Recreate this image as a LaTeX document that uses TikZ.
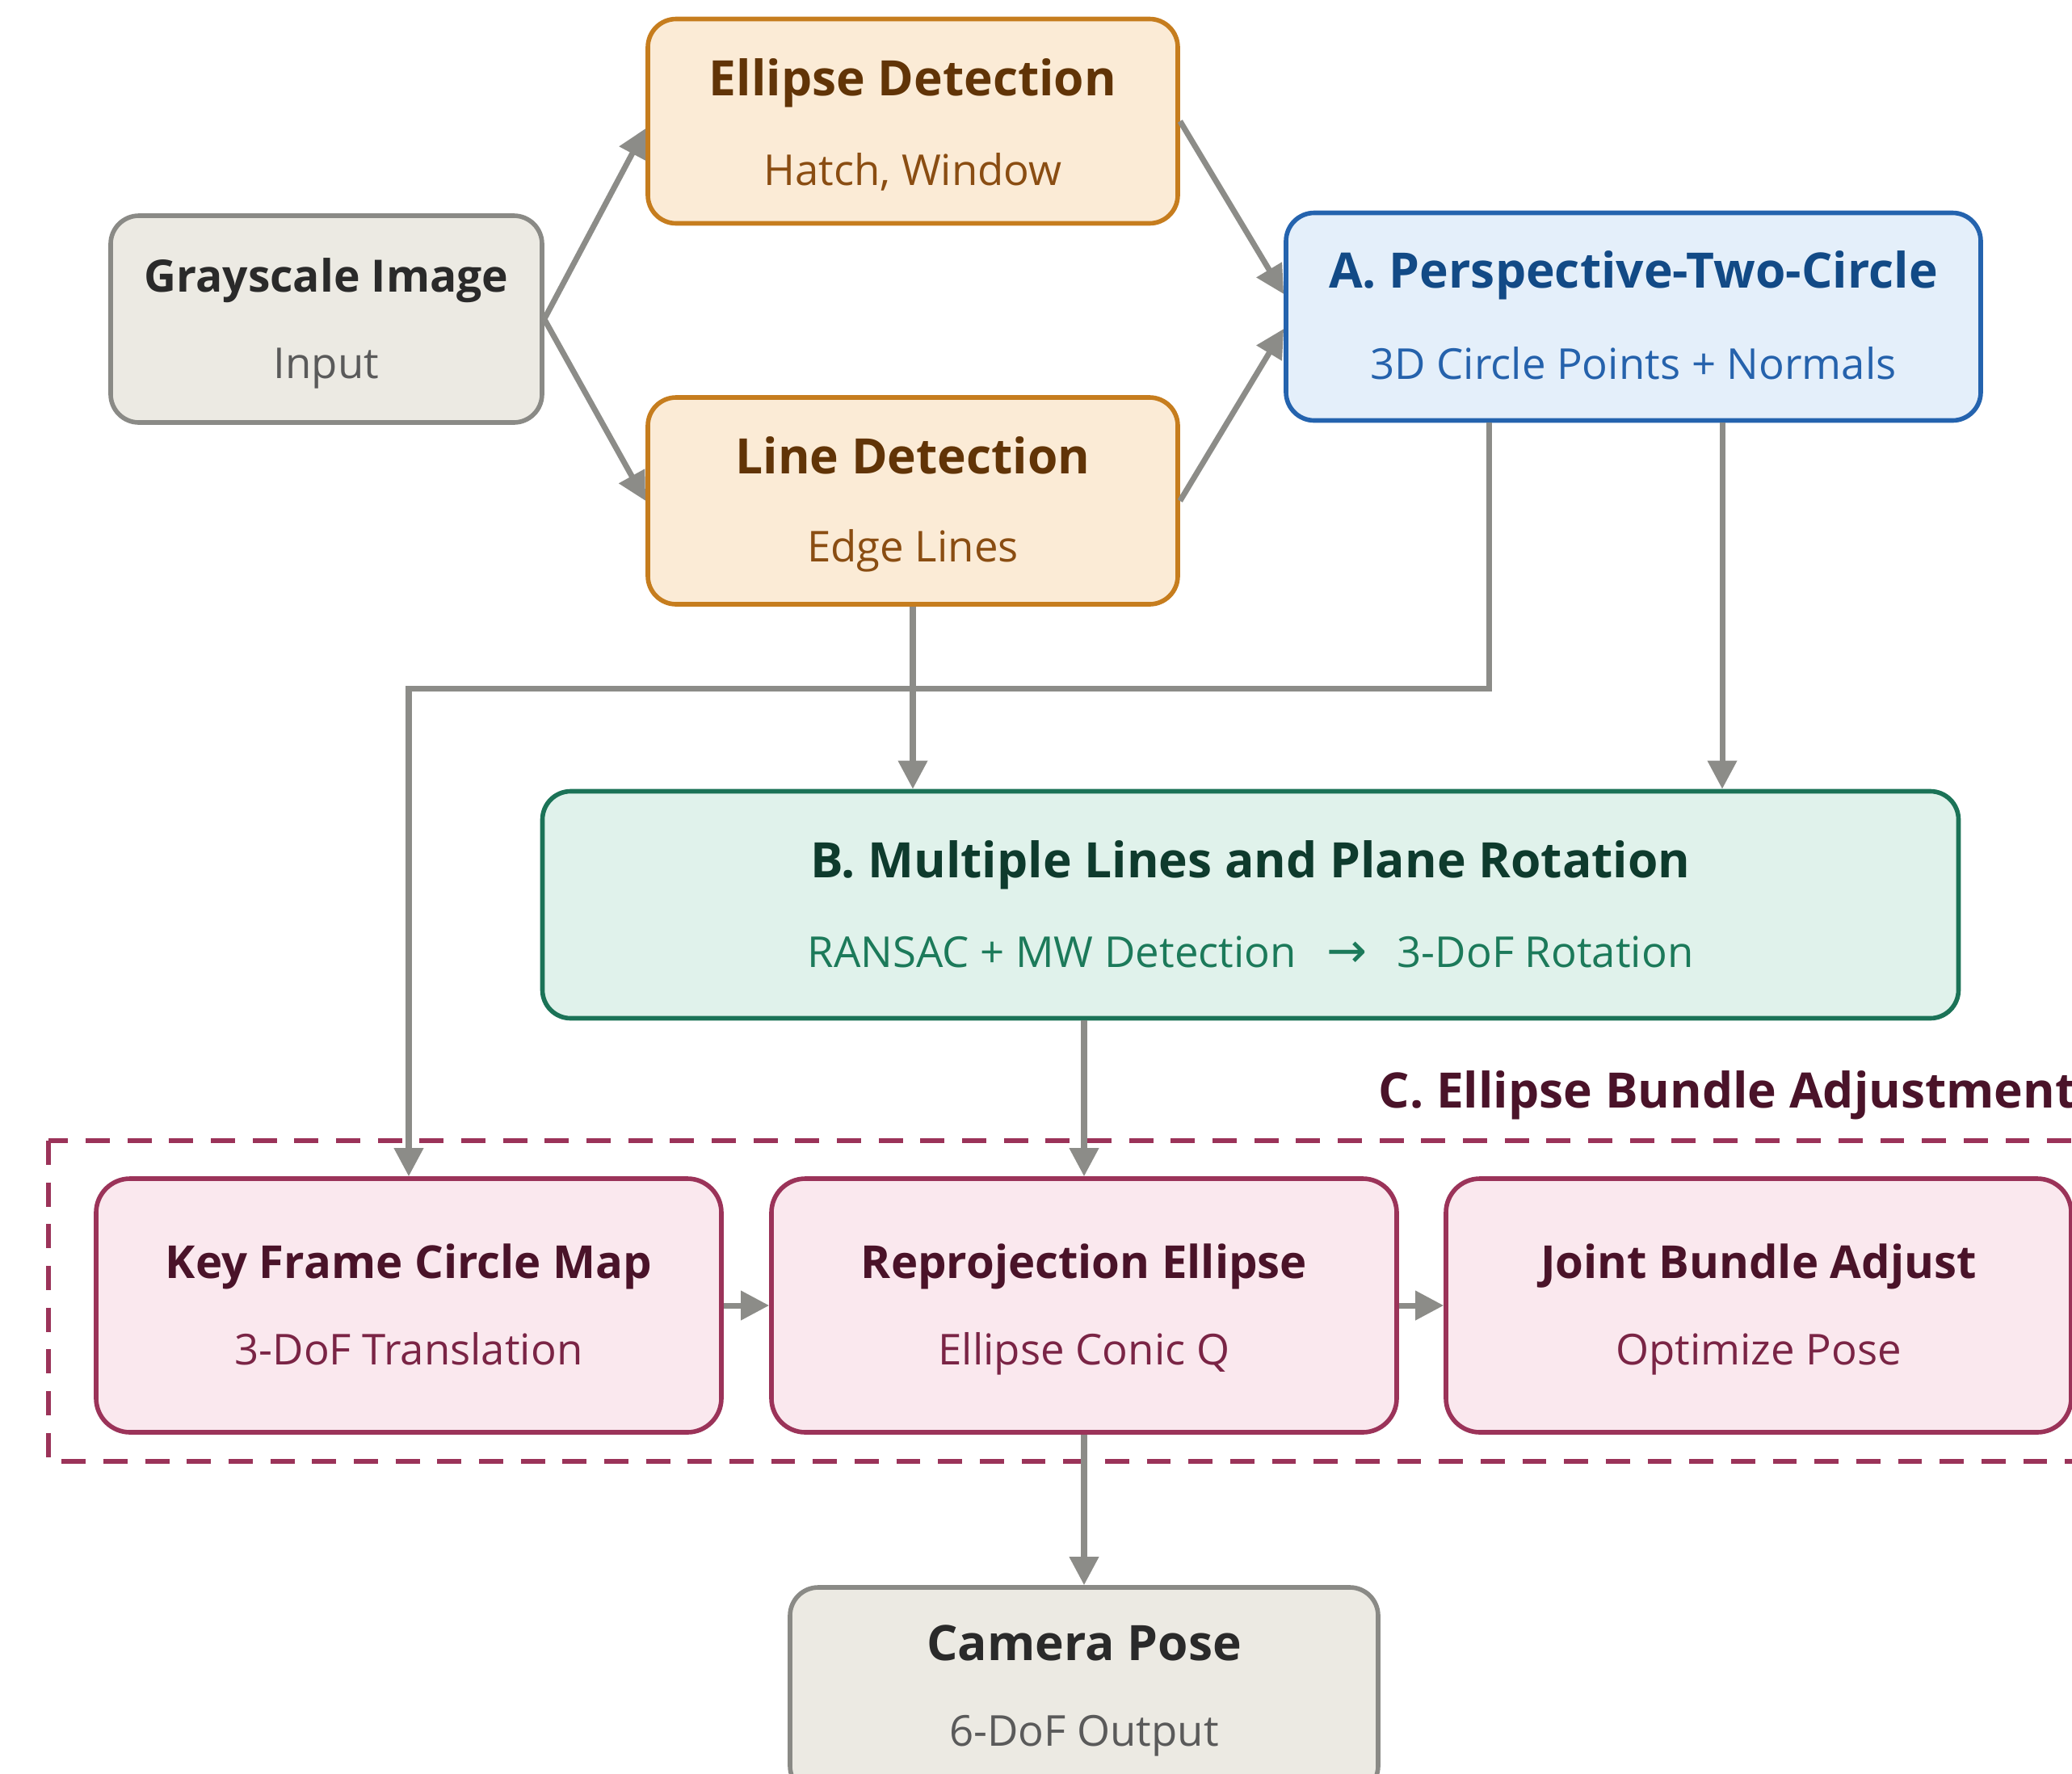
\documentclass[tikz,border=0pt]{standalone}
\usepackage{fontspec}
\setmainfont{Open Sans}
\newfontfamily\arrowfont{DejaVu Sans}
\usetikzlibrary{arrows.meta,positioning,calc}

\definecolor{grayfill}{HTML}{ECEAE3}
\definecolor{grayline}{HTML}{8A8A86}
\definecolor{graytitle}{HTML}{2A2A2A}
\definecolor{graysub}{HTML}{5A5A5A}
\definecolor{orfill}{HTML}{FBEBD6}
\definecolor{orline}{HTML}{C67D1E}
\definecolor{ortitle}{HTML}{613407}
\definecolor{orsub}{HTML}{8A4D12}
\definecolor{blfill}{HTML}{E4EFFA}
\definecolor{blline}{HTML}{2463AE}
\definecolor{bltitle}{HTML}{124A86}
\definecolor{blsub}{HTML}{2562AC}
\definecolor{grfill}{HTML}{E0F2EB}
\definecolor{grline}{HTML}{1B7357}
\definecolor{grtitle}{HTML}{0E3B2D}
\definecolor{grsub}{HTML}{1C7A5A}
\definecolor{pkfill}{HTML}{FAE8EE}
\definecolor{pkline}{HTML}{9B3359}
\definecolor{pktitle}{HTML}{4A1329}
\definecolor{pksub}{HTML}{7A2445}
\definecolor{arrgray}{HTML}{8C8C88}

\tikzset{
  box/.style={rounded corners=3.5mm, line width=1.6pt, inner sep=0pt},
  graybox/.style={box, draw=grayline, fill=grayfill},
  orbox/.style={box, draw=orline, fill=orfill},
  blbox/.style={box, draw=blline, fill=blfill},
  grbox/.style={box, draw=grline, fill=grfill},
  pkbox/.style={box, rounded corners=4.2mm, draw=pkline, fill=pkfill, minimum width=7.74cm, minimum height=3.14cm},
  ttl/.style={anchor=base, inner sep=0pt, font=\fontsize{17.2}{20}\selectfont\bfseries},
  pkttl/.style={ttl, font=\fontsize{16}{19}\selectfont\bfseries},
  sub/.style={anchor=base, inner sep=0pt, font=\fontsize{15}{18}\selectfont},
  arr/.style={draw=arrgray, line width=2pt, -{Triangle[length=10pt,width=10pt]}},
}

\begin{document}
\begin{tikzpicture}
	\clip (0,0) rectangle (25.65,-21.96);

	% input and detection
	\node[graybox, minimum width=5.34cm, minimum height=2.56cm] (gray) at (4.04,-3.95) {};
	\node[ttl, font=\fontsize{15.7}{19}\selectfont\bfseries, text=graytitle] (gray-t) at ([yshift=3.4mm]gray.center) {Grayscale Image};
	\node[sub, text=graysub] (gray-s) at ([yshift=-7.3mm]gray.center) {Input};

	\node[orbox, minimum width=6.56cm, minimum height=2.53cm] (ell) at (11.30,-1.50) {};
	\node[ttl, text=ortitle] (ell-t) at ([yshift=3.2mm]ell.center) {Ellipse Detection};
	\node[sub, text=orsub] (ell-s) at ([yshift=-7.9mm]ell.center) {Hatch, Window};

	\node[orbox, minimum width=6.56cm, minimum height=2.56cm] (line) at (11.30,-6.20) {};
	\node[ttl, text=ortitle] (line-t) at ([yshift=3.4mm]line.center) {Line Detection};
	\node[sub, text=orsub] (line-s) at ([yshift=-7.5mm]line.center) {Edge Lines};

	% A and B
	\node[blbox, minimum width=8.60cm, minimum height=2.57cm] (A) at (20.22,-3.92) {};
	\node[ttl, text=bltitle] (A-t) at ([yshift=3.6mm]A.center) {A. Perspective-Two-Circle};
	\node[sub, text=blsub] (A-s) at ([yshift=-7.7mm]A.center) {3D Circle Points + Normals};

	\node[grbox, minimum width=17.53cm, minimum height=2.81cm] (B) at (15.48,-11.20) {};
	\node[ttl, text=grtitle] (B-t) at ([yshift=3.4mm]B.center) {B. Multiple Lines and Plane Rotation};
	\node[sub, text=grsub] (B-s) at ([yshift=-7.7mm]B.center) {RANSAC + MW Detection\hspace{0.45em} {\arrowfont\fontsize{17}{17}\selectfont →} \hspace{0.45em}3-DoF Rotation};

	% C group
	\draw[pkline, line width=1.7pt, dash pattern=on 8.5pt off 6.2pt] (0.60,-14.12) rectangle (26.20,-18.09);
	\node[ttl, anchor=base west, text=pktitle] (C-t) at (17.06,-13.71) {C. Ellipse Bundle Adjustment};

	\node[pkbox] (kf) at (5.06,-16.16) {};
	\node[pkttl, text=pktitle] (kf-t) at ([yshift=3.4mm]kf.center) {Key Frame Circle Map};
	\node[sub, text=pksub] (kf-s) at ([yshift=-7.3mm]kf.center) {3-DoF Translation};

	\node[pkbox] (rep) at (13.42,-16.16) {};
	\node[pkttl, text=pktitle] (rep-t) at ([yshift=3.4mm]rep.center) {Reprojection Ellipse};
	\node[sub, text=pksub] (rep-s) at ([yshift=-7.3mm]rep.center) {Ellipse Conic Q};

	\node[pkbox] (joint) at (21.77,-16.16) {};
	\node[pkttl, text=pktitle] (joint-t) at ([yshift=3.4mm]joint.center) {Joint Bundle Adjust};
	\node[sub, text=pksub] (joint-s) at ([yshift=-7.3mm]joint.center) {Optimize Pose};

	% output
	\node[graybox, minimum width=7.28cm, minimum height=2.56cm] (cam) at (13.42,-20.93) {};
	\node[ttl, text=graytitle] (cam-t) at ([yshift=3.8mm]cam.center) {Camera Pose};
	\node[sub, text=graysub] (cam-s) at ([yshift=-6.8mm]cam.center) {6-DoF Output};

	% connectors
	\draw[arr] (gray.east) -- ([yshift=-0.9mm]ell.west);
	\draw[arr] (gray.east) -- (line.west);
	\draw[arr] (ell.east) -- ([yshift=2.8mm]A.west);
	\draw[arr] (line.east) -- ([yshift=-1.5mm]A.west);
	\draw[arr] (line.south) -- (line.south |- B.north);
	\draw[arr] ([xshift=-1.79cm]A.south) -- ++(0,-3.29) -| (kf.north);
	\draw[arr] ([xshift=1.10cm]A.south) -- ([xshift=1.10cm]A.south |- B.north);
	\draw[arr] (rep.north |- B.south) -- (rep.north);
	\draw[arr] (kf.east) -- (rep.west);
	\draw[arr] (rep.east) -- (joint.west);
	\draw[arr] (rep.south) -- (cam.north);
\end{tikzpicture}
\end{document}
